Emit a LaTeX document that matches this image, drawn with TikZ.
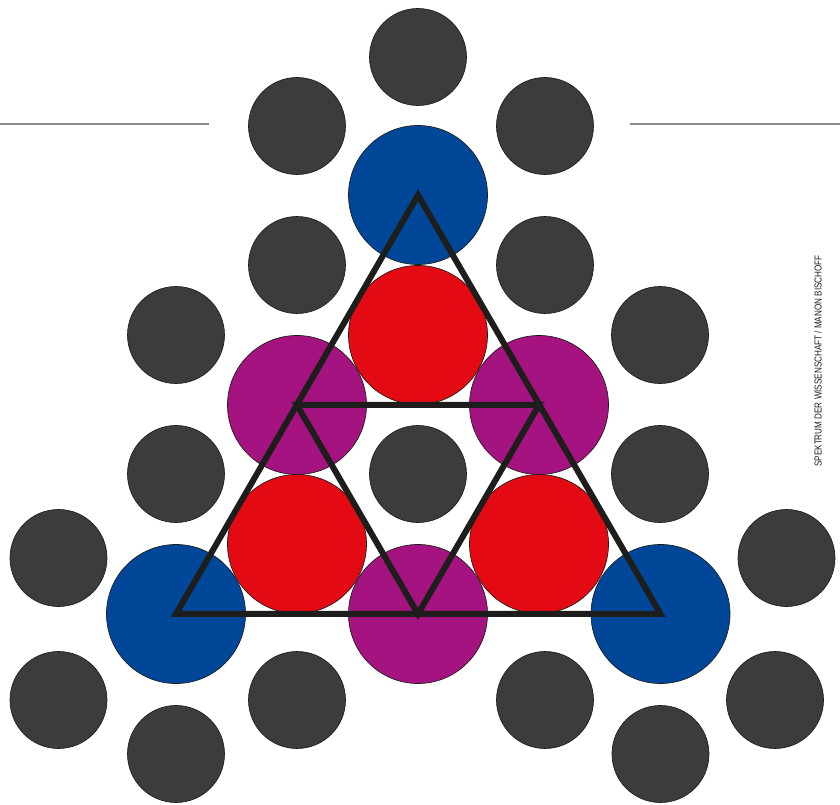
\documentclass[tikz,border=0pt]{standalone}
\usepackage{fontspec}
\setmainfont{Liberation Sans}
\definecolor{dgray}{HTML}{3C3C3B}
\definecolor{cblue}{HTML}{00479A}
\definecolor{cred}{HTML}{E30A13}
\definecolor{cpurple}{HTML}{A4137F}
\definecolor{tline}{HTML}{1D1D1B}
\definecolor{rule}{HTML}{8A8A8A}
\begin{document}
\begin{tikzpicture}[x=0.75pt,y=-0.75pt,
  dot/.style={circle,draw=tline,line width=0.5pt,fill=dgray,minimum size=97*0.75pt,inner sep=0pt},
  big/.style={circle,draw=tline,line width=0.5pt,minimum size=139*0.75pt,inner sep=0pt},
  tri/.style={draw=tline,line width=4.5pt,line join=miter},
  hrule/.style={draw=rule,line width=1.5pt}]
\useasboundingbox (0,0) rectangle (840,805);
% grey dots
\node[dot] (d1) at (418,57) {};
\node[dot] (d2) at (297,126) {};
\node[dot] (d3) at (545,126) {};
\node[dot] (d4) at (297,265) {};
\node[dot] (d5) at (545,265) {};
\node[dot] (d6) at (176,335) {};
\node[dot] (d7) at (660,335) {};
\node[dot] (d8) at (418,474) {};
\node[dot] (d9) at (176,474) {};
\node[dot] (d10) at (660,474) {};
\node[dot] (d11) at (58.5,558) {};
\node[dot] (d12) at (786.5,558) {};
\node[dot] (d13) at (58.5,700) {};
\node[dot] (d14) at (297,700) {};
\node[dot] (d15) at (545,700) {};
\node[dot] (d16) at (775,700) {};
\node[dot] (d17) at (176,754) {};
\node[dot] (d18) at (660.5,754) {};
% coloured circles
\node[big,fill=cblue] (b1) at (418,195) {};
\node[big,fill=cblue] (b2) at (176,614) {};
\node[big,fill=cblue] (b3) at (660.5,614) {};
\node[big,fill=cred] (r1) at (418,335) {};
\node[big,fill=cred] (r2) at (297,544) {};
\node[big,fill=cred] (r3) at (539,544) {};
\node[big,fill=cpurple] (p1) at (297,405) {};
\node[big,fill=cpurple] (p2) at (539,405) {};
\node[big,fill=cpurple] (p3) at (418,614) {};
% triangles
\draw[tri] (b1.center) -- (b2.center) -- (b3.center) -- cycle;
\draw[tri] (p1.center) -- (p2.center) -- (p3.center) -- cycle;
% rules
\coordinate (l1) at (0,124);
\coordinate (l2) at (209,124);
\coordinate (l3) at (630,124);
\coordinate (l4) at (840,124);
\draw[hrule] (l1) -- (l2);
\draw[hrule] (l3) -- (l4);
% credit
\node[rotate=90,inner sep=0pt,text=tline] (credit) at (818,361) {\scalebox{0.8}[1]{\fontsize{7.6pt}{9pt}\selectfont SPEKTRUM DER WISSENSCHAFT / MANON BISCHOFF}};
\end{tikzpicture}
\end{document}
